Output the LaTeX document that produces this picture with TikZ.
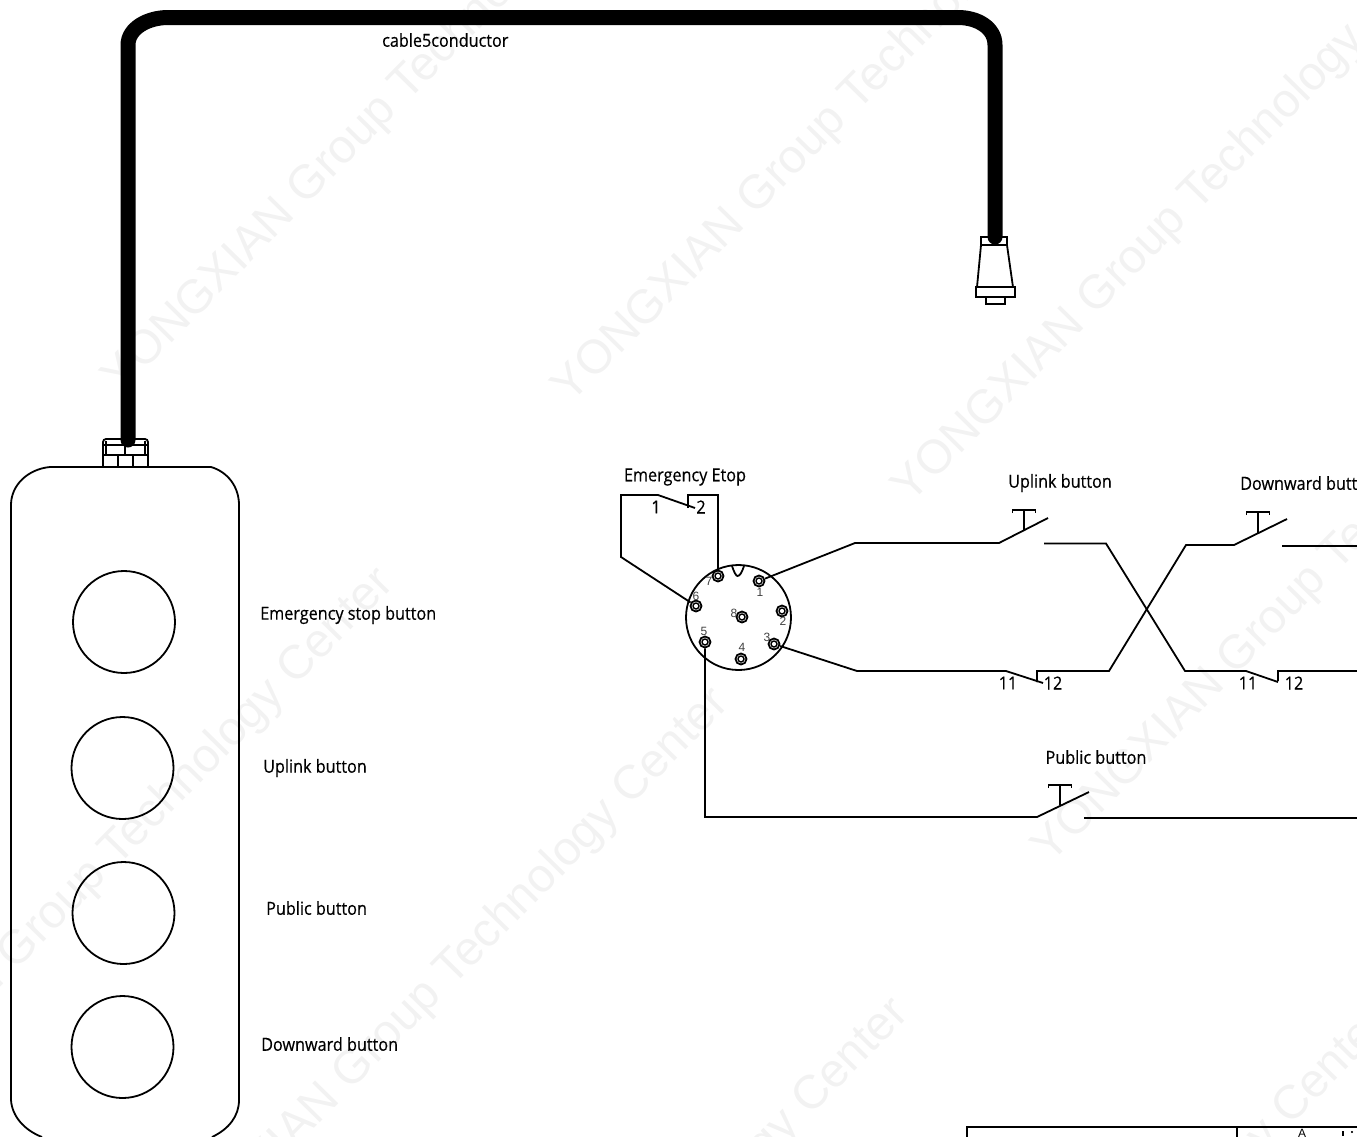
\documentclass[tikz,border=0pt]{standalone}
\usepackage{fontspec}
\setmainfont[FakeStretch=0.9, FakeBold=0.4]{Open Sans}
\newfontfamily\pinfont{Liberation Sans}
\newfontfamily\markfont{Liberation Sans}
\tikzset{
	wire/.style={line width=1.8pt, color=black, line join=miter},
	thin wire/.style={line width=1.5pt, color=black},
	cable/.style={line width=15pt, color=black, line cap=round},
	cad label/.style={inner sep=0pt, font=\fontsize{18}{18}\selectfont},
	pin label/.style={inner sep=0pt, text=black!75, font=\pinfont\fontsize{12}{12}\selectfont},
	water mark/.style={inner sep=0pt, anchor=west, rotate=45.5, text=black!5, font=\markfont\fontsize{47.5}{47.5}\selectfont},
}
\def\pinring(#1)#2{\node[circle, draw, line width=1.8pt, minimum size=11pt, inner sep=0pt] (#2) at (#1) {}; \draw[line width=1.4pt] (#1) circle (3);}
\def\pushtop(#1,#2){\draw[thin wire] (#1-11.5, #2+3) -- (#1-11.5, #2) -- (#1+11.5, #2) -- (#1+11.5, #2+3);}

\begin{document}
\begin{tikzpicture}[x=1pt, y=-1pt]
	%%%%% START %%%%%
	\useasboundingbox (0, 0) rectangle (1357, 1136);
	\clip (0, 0) rectangle (1357, 1136);

	\node[water mark] (markA) at (112, 386) {YONGXIAN Group Technology Center};
	\node[water mark] (markB) at (562, 396) {YONGXIAN Group Technology Center};
	\node[water mark] (markC) at (902, 496) {YONGXIAN Group Technology Center};
	\node[water mark] (markD) at (-178, 1151) {YONGXIAN Group Technology Center};
	\node[water mark] (markE) at (157, 1271) {YONGXIAN Group Technology Center};
	\node[water mark] (markF) at (1042, 856) {YONGXIAN Group Technology Center};
	\node[water mark] (markG) at (337, 1581) {YONGXIAN Group Technology Center};
	\node[water mark] (markH) at (817, 1591) {YONGXIAN Group Technology Center};

	% plug
	\draw[wire] (981, 237) rectangle (1007, 245);
	\draw[wire] (981, 245) -- (977, 287);
	\draw[wire] (1007, 245) -- (1013, 287);
	\draw[wire] (976, 287) rectangle (1015, 297);
	\draw[wire] (986, 297) rectangle (1005, 304);

	% box
	\draw[wire] (50, 467) -- (211, 467) .. controls (228, 472) and (239, 487) .. (239, 505) -- (239, 1100) .. controls (239, 1116) and (229, 1129) .. (212, 1137);
	\draw[wire] (50, 467) .. controls (28, 469) and (11, 485) .. (11, 505) -- (11, 1100) .. controls (12, 1116) and (24, 1130) .. (42, 1137);
	\node[circle, draw, line width=1.8pt, minimum size=102pt, inner sep=0pt] (btnstop) at (124, 622) {};
	\node[circle, draw, line width=1.8pt, minimum size=102pt, inner sep=0pt] (btnup) at (122.5, 768) {};
	\node[circle, draw, line width=1.8pt, minimum size=102pt, inner sep=0pt] (btnpublic) at (123.5, 913) {};
	\node[circle, draw, line width=1.8pt, minimum size=102pt, inner sep=0pt] (btndown) at (122.5, 1047) {};
	\node[cad label, anchor=west] (stoplabel) at (260, 615) {Emergency stop button};
	\node[cad label, anchor=west] (uplabel) at (263, 768) {Uplink button};
	\node[cad label, anchor=west] (publiclabel) at (266, 908) {Public button};
	\node[cad label, anchor=west] (downlabel) at (261, 1044) {Downward button};

	% gland
	\draw[wire, rounded corners=3pt] (103, 467) -- (103, 439) -- (148, 439) -- (148, 467);
	\draw[thin wire] (103, 445) -- (148, 445);
	\draw[wire] (103, 455) -- (148, 455);
	\draw[thin wire] (106, 441) -- (106, 455);
	\draw[thin wire] (145, 441) -- (145, 455);
	\draw[thin wire] (125, 445) -- (125, 455);
	\draw[wire] (118, 455) -- (118, 467);
	\draw[wire] (133, 455) -- (133, 467);

	% cable
	\draw[cable] (128, 440) -- (128, 45) .. controls (128, 28) and (148, 17.5) .. (168, 17.5) -- (958, 17.5) .. controls (978, 17.5) and (995, 28) .. (995, 45) -- (995, 237);
	\node[cad label, anchor=west] (cablelabel) at (382, 40) {cable5conductor};

	% socket
	\node[circle, draw, line width=1.8pt, minimum size=105pt, inner sep=0pt] (socket) at (738.5, 617.5) {};
	\draw[wire] (732, 566) .. controls (734, 572) and (736, 576) .. (737.5, 576) .. controls (740, 576) and (742, 572) .. (744, 566);
	\pinring(759, 581){pinA}
	\pinring(782, 611){pinB}
	\pinring(774, 644){pinC}
	\pinring(741, 659){pinD}
	\pinring(705, 642){pinE}
	\pinring(696, 606){pinF}
	\pinring(718, 576){pinG}
	\pinring(742, 617){pinH}
	\node[pin label] (numA) at (760, 592) {1};
	\node[pin label] (numB) at (783, 621) {2};
	\node[pin label] (numC) at (767, 637) {3};
	\node[pin label] (numD) at (742, 647) {4};
	\node[pin label] (numE) at (704, 631) {5};
	\node[pin label] (numF) at (696, 596) {6};
	\node[pin label] (numG) at (709, 581) {7};
	\node[pin label] (numH) at (734, 613) {8};

	% emergency stop contact
	\node[cad label] (etoplabel) at (685, 477) {Emergency Etop};
	\coordinate (etopA) at (695, 508);
	\coordinate (etopB) at (688, 508);
	\draw[wire] (pinF) -- (621, 557) -- (621, 495) -- (658, 495) -- (etopA);
	\draw[wire] (etopB) -- (688, 495) -- (718, 495) -- (pinG);
	\node[cad label] (etopone) at (656, 507) {1};
	\node[cad label] (etoptwo) at (701, 507) {2};

	% uplink and downward lines
	\node[cad label] (uplinktitle) at (1060, 483) {Uplink button};
	\node[cad label, anchor=west] (downtitle) at (1240, 483) {Downward button};
	\coordinate (bladeup) at (1048, 518);
	\coordinate (bladedown) at (1287, 519);
	\coordinate (rightA) at (1357, 546);
	\coordinate (rightB) at (1357, 671);
	\draw[wire] (pinA) -- (855, 543) -- (999, 543) -- (bladeup);
	\draw[thin wire] (1024, 510) -- (1024, 530);
	\pushtop(1024, 510)
	\draw[wire] (1044, 543.5) -- (1106, 543.5) -- (1185, 671) -- (1246, 671) -- (1278, 682);
	\draw[wire] (1278, 681) -- (1278, 671) -- (rightB);
	\draw[wire] (pinC) -- (857, 671) -- (1006, 671) -- (1043, 683);
	\draw[wire] (1037, 682) -- (1037, 671) -- (1109, 671) -- (1186, 545) -- (1234, 545) -- (bladedown);
	\draw[thin wire] (1258, 512) -- (1258, 533);
	\pushtop(1258, 512)
	\draw[wire] (1282, 546) -- (rightA);
	\node[cad label] (elevenA) at (1008, 683) {11};
	\node[cad label] (twelveA) at (1053, 683) {12};
	\node[cad label] (elevenB) at (1248, 683) {11};
	\node[cad label] (twelveB) at (1294, 683) {12};

	% public line
	\node[cad label] (publictitle) at (1096, 757) {Public button};
	\coordinate (bladepublic) at (1089, 792);
	\coordinate (rightC) at (1357, 818);
	\draw[wire] (pinE) -- (705, 817) -- (1037, 817) -- (bladepublic);
	\draw[thin wire] (1060, 785) -- (1060, 805);
	\pushtop(1060, 785)
	\draw[wire] (1084, 818) -- (rightC);

	% title block
	\draw[wire] (967, 1140) -- (967, 1127) -- (1357, 1127);
	\draw[wire] (1237, 1127) -- (1237, 1140);
	\node[pin label, anchor=north, text=black] (blockA) at (1302, 1129) {A};
	\draw[thin wire] (1343, 1131) -- (1343, 1136);
	\draw[fill=black] (1352, 1132) circle (0.8);
	%%%%% END %%%%%
\end{tikzpicture}
\end{document}
